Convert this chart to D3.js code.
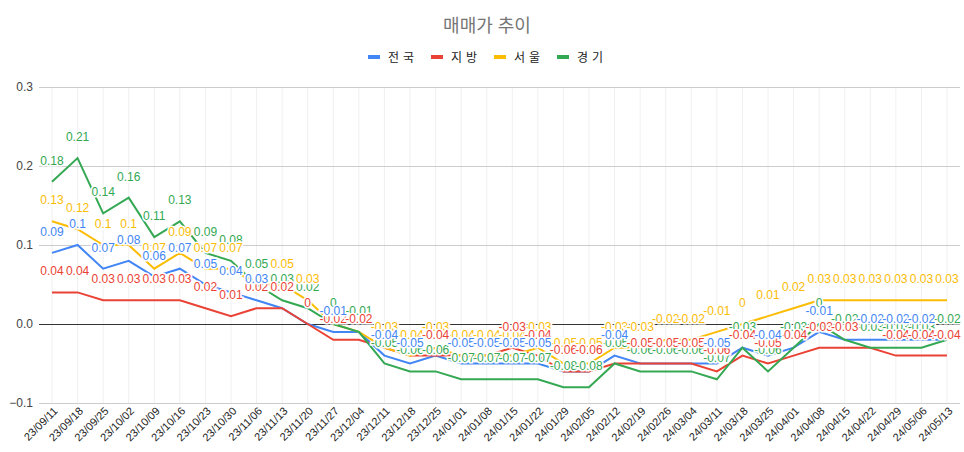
<!DOCTYPE html>
<html>
<head>
<meta charset="utf-8">
<script src="https://cdn.jsdelivr.net/npm/d3@7"></script>
<style>
  body { margin: 0; background: #fff; }
  svg { font-family: 'Liberation Sans', Arial, 'Noto Sans CJK KR', sans-serif; }
</style>
</head>
<body>
<svg width="964" height="452"></svg>
<script>
let dates = ['23/09/11','23/09/18','23/09/25','23/10/02','23/10/09','23/10/16','23/10/23','23/10/30',
  '23/11/06','23/11/13','23/11/20','23/11/27','23/12/04','23/12/11','23/12/18','23/12/25',
  '24/01/01','24/01/08','24/01/15','24/01/22','24/01/29','24/02/05','24/02/12','24/02/19',
  '24/02/26','24/03/04','24/03/11','24/03/18','24/03/25','24/04/01','24/04/08','24/04/15',
  '24/04/22','24/04/29','24/05/06','24/05/13'];

let seriesNames = ['전국', '지방', '서울', '경기'];
let seriesColors = ['#4285f4', '#ea4335', '#fbbc04', '#34a853'];

let nation = [0.09,0.1,0.07,0.08,0.06,0.07,0.05,0.04,0.03,0.02,0,-0.01,-0.01,-0.04,-0.05,-0.04,
  -0.05,-0.05,-0.05,-0.05,-0.06,-0.06,-0.04,-0.05,-0.05,-0.05,-0.05,-0.03,-0.04,-0.03,-0.01,-0.02,
  -0.02,-0.02,-0.02,-0.02];
let local = [0.04,0.04,0.03,0.03,0.03,0.03,0.02,0.01,0.02,0.02,0,-0.02,-0.02,-0.03,-0.04,-0.04,
  -0.04,-0.04,-0.03,-0.04,-0.06,-0.06,-0.05,-0.05,-0.05,-0.05,-0.06,-0.04,-0.05,-0.04,-0.03,-0.03,
  -0.03,-0.04,-0.04,-0.04];
let seoul = [0.13,0.12,0.1,0.1,0.07,0.09,0.07,0.07,0.05,0.05,0.03,0,-0.01,-0.03,-0.04,-0.03,
  -0.04,-0.04,-0.04,-0.03,-0.05,-0.05,-0.03,-0.03,-0.02,-0.02,-0.01,0,0.01,0.02,0.03,0.03,
  0.03,0.03,0.03,0.03];
let gyeonggi = [0.18,0.21,0.14,0.16,0.11,0.13,0.09,0.08,0.05,0.03,0.02,0,-0.01,-0.05,-0.06,-0.06,
  -0.07,-0.07,-0.07,-0.07,-0.08,-0.08,-0.05,-0.06,-0.06,-0.06,-0.07,-0.03,-0.06,-0.03,0,-0.02,
  -0.03,-0.03,-0.03,-0.02];

let yTicks = [-0.1, 0, 0.1, 0.2, 0.3];

let allSeries = [nation, local, seoul, gyeonggi];

let svg = d3.select('svg');

let x = d3.scalePoint().domain(dates).range([52, 947]);
let y = d3.scaleLinear().domain([-0.1, 0.3]).range([403, 87]);

// title
svg.append('text')
  .attr('x', 487).attr('y', 32)
  .attr('text-anchor', 'middle')
  .style('font-size', '18px')
  .style('fill', '#757575')
  .text('매매가 추이');

// legend
let legendX = [368, 431, 494, 557];
let legend = svg.append('g');
seriesNames.forEach(function(name, i) {
  legend.append('rect')
    .attr('x', legendX[i]).attr('y', 55)
    .attr('width', 12).attr('height', 4)
    .style('fill', seriesColors[i]);
  legend.append('text')
    .attr('x', legendX[i] + 20).attr('y', 62)
    .style('font-size', '12px')
    .style('letter-spacing', '4px')
    .style('fill', '#222')
    .text(name);
});

// vertical grid
svg.append('g')
  .selectAll('line')
  .data(dates)
  .join('line')
  .attr('x1', d => x(d)).attr('x2', d => x(d))
  .attr('y1', 87).attr('y2', 403)
  .style('stroke', '#f0f0f0');

// horizontal grid + y labels
let yAxis = svg.append('g')
  .attr('transform', 'translate(39,0)')
  .call(d3.axisLeft(y).tickValues(yTicks).tickSize(-921).tickFormat(d => d === 0 ? '0.0' : d3.format('.1f')(d)));
yAxis.select('.domain').remove();
yAxis.selectAll('.tick line')
  .style('stroke', d => d === 0 ? '#333' : '#ccc');
yAxis.selectAll('.tick text')
  .attr('x', -6)
  .style('font-size', '12px')
  .style('font-family', "'Liberation Sans', Arial, sans-serif")
  .style('fill', '#444');

// x labels
let xAxis = svg.append('g')
  .attr('transform', 'translate(0,403)')
  .call(d3.axisBottom(x).tickSize(0));
xAxis.select('.domain').remove();
xAxis.selectAll('.tick text')
  .attr('text-anchor', 'end')
  .attr('transform', 'translate(3,6) rotate(-45)')
  .attr('dy', '0.35em')
  .attr('y', 0)
  .style('font-size', '11px')
  .style('font-family', "'Liberation Sans', Arial, sans-serif")
  .style('fill', '#222');

// lines
let line = d3.line()
  .x((d, i) => x(dates[i]))
  .y(d => y(d));

svg.append('g')
  .selectAll('path')
  .data(allSeries)
  .join('path')
  .attr('d', d => line(d))
  .style('fill', 'none')
  .style('stroke', (d, i) => seriesColors[i])
  .style('stroke-width', 2);

// point labels, last series first; a value already shown at that date is skipped
let placed = dates.map(() => []);
let labels = [];
for (let s = allSeries.length - 1; s >= 0; s--) {
  allSeries[s].forEach(function(v, i) {
    let ly = y(v) - 17;
    if (placed[i].some(p => Math.abs(p - ly) < 4)) return;
    placed[i].push(ly);
    labels.push({ v: v, i: i, s: s, ly: ly });
  });
}

svg.append('g')
  .selectAll('text')
  .data(labels)
  .join('text')
  .attr('x', d => x(dates[d.i]))
  .attr('y', d => d.ly)
  .attr('text-anchor', 'middle')
  .style('font-size', '12px')
  .style('fill', d => seriesColors[d.s])
  .style('stroke', '#fff')
  .style('stroke-width', 3)
  .style('paint-order', 'stroke')
  .text(d => d.v);
</script>
</body>
</html>
